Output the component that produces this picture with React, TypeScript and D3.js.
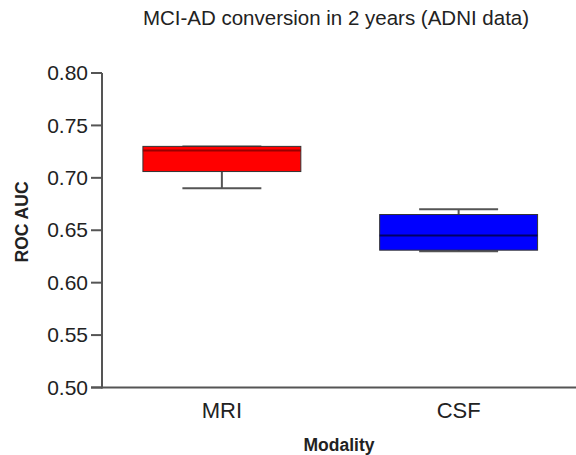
import React from 'react';
import * as d3 from 'd3';

const modalities = ['MRI', 'CSF'];
const minValues = [0.69, 0.63];
const q1Values = [0.706, 0.631];
const medianValues = [0.726, 0.645];
const q3Values = [0.73, 0.665];
const maxValues = [0.73, 0.67];
const fills = ['#ff0000', '#0000ff'];
const medianColors = ['#990000', '#000066'];
const yTicks = [0.5, 0.55, 0.6, 0.65, 0.7, 0.75, 0.8];

const width = 576;
const height = 455;
const axisColor = '#555';
const font = 'Arial, "Liberation Sans", Helvetica, sans-serif';

export default function App() {
    const x = d3.scalePoint<string>().domain(modalities).range([103.5, 577]).padding(0.5);
    const step = x.step();
    const boxW = step * 0.667;
    const capW = boxW * 0.5;
    const y = d3.scaleLinear().domain([0.5, 0.8]).range([387.5, 73]);

    const x0 = 102;
    const x1 = 576;

    return (
        <svg width={width} height={height} style={{ position: 'absolute', left: 0, top: 0, background: '#fff' }}>
            {/* title */}
            <text x={336} y={25} textAnchor="middle" fontFamily={font} fontSize={20.5} fill="#222">
                MCI-AD conversion in 2 years (ADNI data)
            </text>

            {/* y axis */}
            <line x1={x0} x2={x0} y1={y(0.8)} y2={y(0.5) + 1} stroke={axisColor} strokeWidth={2} />
            {yTicks.map((t) => (
                <g key={t}>
                    <line x1={x0 - 11} x2={x0} y1={y(t)} y2={y(t)} stroke={axisColor} strokeWidth={2} />
                    <text x={88} y={y(t)} dy="0.34em" textAnchor="end" fontFamily={font} fontSize={21} fill="#222">
                        {d3.format('.2f')(t)}
                    </text>
                </g>
            ))}
            <text
                transform={`translate(28,222) rotate(-90)`}
                textAnchor="middle"
                fontFamily={font}
                fontSize={17.5}
                fontWeight="bold"
                fill="#222"
            >
                ROC AUC
            </text>

            {/* x axis */}
            <line x1={x0 - 11} x2={x1} y1={y(0.5)} y2={y(0.5)} stroke={axisColor} strokeWidth={2} />
            {modalities.map((m) => (
                <text key={m} x={x(m)} y={418} textAnchor="middle" fontFamily={font} fontSize={22} fill="#222">
                    {m}
                </text>
            ))}
            <text x={339} y={451} textAnchor="middle" fontFamily={font} fontSize={17.5} fontWeight="bold" fill="#222">
                Modality
            </text>

            {/* boxes */}
            {modalities.map((m, i) => {
                const cx = x(m) as number;
                return (
                    <g key={m}>
                        <line x1={cx} x2={cx} y1={y(maxValues[i])} y2={y(q3Values[i])} stroke={axisColor} strokeWidth={2} />
                        <line x1={cx} x2={cx} y1={y(q1Values[i])} y2={y(minValues[i])} stroke={axisColor} strokeWidth={2} />
                        <line x1={cx - capW / 2} x2={cx + capW / 2} y1={y(maxValues[i])} y2={y(maxValues[i])} stroke={axisColor} strokeWidth={2} />
                        <line x1={cx - capW / 2} x2={cx + capW / 2} y1={y(minValues[i])} y2={y(minValues[i])} stroke={axisColor} strokeWidth={2} />
                        <rect
                            x={cx - boxW / 2}
                            y={y(q3Values[i])}
                            width={boxW}
                            height={y(q1Values[i]) - y(q3Values[i])}
                            fill={fills[i]}
                            stroke="#333"
                            strokeWidth={1}
                        />
                        <line
                            x1={cx - boxW / 2}
                            x2={cx + boxW / 2}
                            y1={y(medianValues[i])}
                            y2={y(medianValues[i])}
                            stroke={medianColors[i]}
                            strokeWidth={2}
                        />
                    </g>
                );
            })}
        </svg>
    );
}
